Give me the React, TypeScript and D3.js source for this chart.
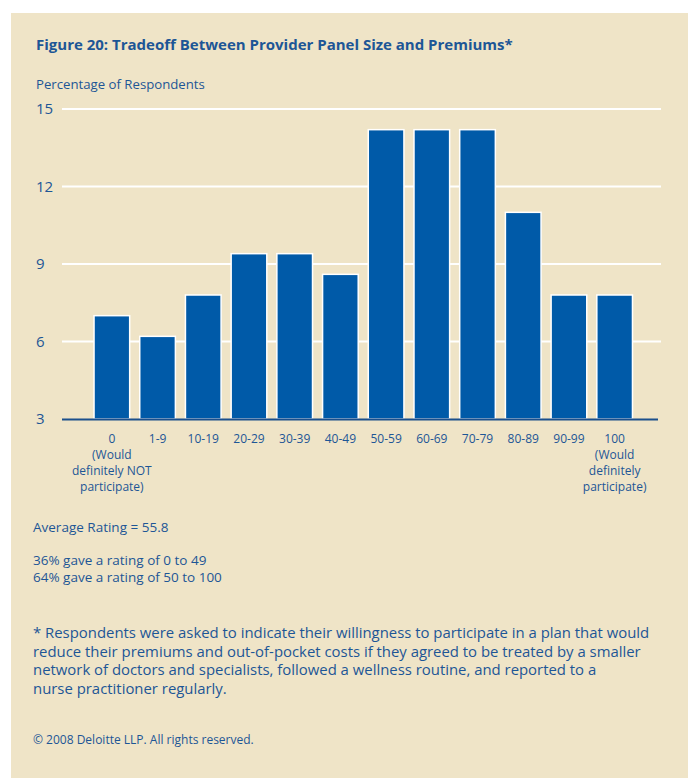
import React from "react";
import * as d3 from "d3";

const categories = ["0", "1-9", "10-19", "20-29", "30-39", "40-49", "50-59", "60-69", "70-79", "80-89", "90-99", "100"];
const values = [7.0, 6.2, 7.8, 9.4, 9.4, 8.6, 14.2, 14.2, 14.2, 11.0, 7.8, 7.8];
const subLabels: Record<string, string[]> = {
  "0": ["(Would", "definitely NOT", "participate)"],
  "100": ["(Would", "definitely", "participate)"],
};
const yTicks = [3, 6, 9, 12, 15];
const title = "Figure 20: Tradeoff Between Provider Panel Size and Premiums*";
const yTitle = "Percentage of Respondents";
const statLines = ["Average Rating = 55.8", "", "36% gave a rating of 0 to 49", "64% gave a rating of 50 to 100"];
const footLines = [
  "* Respondents were asked to indicate their willingness to participate in a plan that would",
  "reduce their premiums and out-of-pocket costs if they agreed to be treated by a smaller",
  "network of doctors and specialists, followed a wellness routine, and reported to a",
  "nurse practitioner regularly.",
];
const copyright = "© 2008 Deloitte LLP.  All rights reserved.";

const W = 688;
const H = 778;
const BG = "#efe4c7";
const BLUE = "#005aa8";
const TEXT = "#1d5696";
const FONT = "'Open Sans', 'Noto Sans', sans-serif";

export default function App() {
  const x = d3.scaleBand<string>().domain(categories).range([89, 637.5]).paddingInner(0.22).paddingOuter(0.11);
  const y = d3.scaleLinear().domain([3, 15]).range([419, 109]);
  return (
    <svg width={W} height={H} style={{ position: "absolute", left: 0, top: 0, display: "block" }} fontFamily={FONT}>
      <rect x={0} y={0} width={W} height={H} fill="#ffffff" />
      <rect x={11} y={13} width={W - 11} height={H - 13} fill={BG} />
      <text x={36} y={50} fill={TEXT} fontSize={15} fontWeight="bold">{title}</text>
      <text x={36} y={89} fill={TEXT} fontSize={13.2}>{yTitle}</text>
      {yTicks.filter((t) => t > 3).map((t) => (
        <line key={t} x1={62} x2={661} y1={y(t)} y2={y(t)} stroke="#ffffff" strokeWidth={2} />
      ))}
      {yTicks.map((t) => (
        <text key={"l" + t} x={36} y={y(t)} dy="0.36em" fill={TEXT} fontSize={15}>{t}</text>
      ))}
      {categories.map((c, i) => (
        <rect key={c} x={x(c)} y={y(values[i])} width={x.bandwidth()} height={y(3) - y(values[i])} fill={BLUE} stroke="#ffffff" strokeWidth={1.5} />
      ))}
      <line x1={62} x2={658} y1={419.5} y2={419.5} stroke="#1b4f8c" strokeWidth={2} />
      {categories.map((c) => {
        const cx = (x(c) as number) + x.bandwidth() / 2;
        const lines = [c, ...(subLabels[c] || [])];
        return (
          <text key={"x" + c} x={cx} y={443} fill={TEXT} fontSize={12} textAnchor="middle">
            {lines.map((l, k) => (
              <tspan key={k} x={cx} dy={k === 0 ? 0 : 16}>{l}</tspan>
            ))}
          </text>
        );
      })}
      {statLines.map((l, i) => (
        <text key={"s" + i} x={33} y={532 + i * 16.5} fill={TEXT} fontSize={13.5}>{l}</text>
      ))}
      {footLines.map((l, i) => (
        <text key={"f" + i} x={33} y={638 + i * 18.5} fill={TEXT} fontSize={14.9}>{l}</text>
      ))}
      <text x={33} y={744} fill={TEXT} fontSize={12}>{copyright}</text>
    </svg>
  );
}
